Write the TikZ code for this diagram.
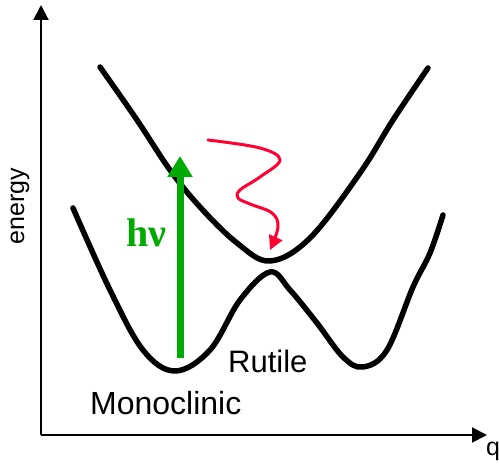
\documentclass[tikz,border=0pt]{standalone}
\usepackage{fontspec}
\setmainfont{Liberation Sans}
\newfontfamily\hnufont{Liberation Serif}
\usetikzlibrary{arrows.meta}
\definecolor{hvgreen}{RGB}{0,170,0}
\definecolor{relaxred}{RGB}{255,0,51}
\tikzset{
  axisline/.style={line width=2pt, -{Triangle[width=15pt,length=15pt]}},
  curveline/.style={line width=5.5pt, line cap=round, line join=round},
  lbl/.style={inner sep=0pt, font=\fontsize{31}{33}\selectfont},
  smalllbl/.style={inner sep=0pt, font=\fontsize{25}{27}\selectfont},
}
\begin{document}
\begin{tikzpicture}[x=1pt,y=-1pt]
\useasboundingbox (0,0) rectangle (499,465);
% axes
\coordinate (O) at (41,435);
\coordinate (ytop) at (41,5);
\coordinate (xend) at (487,435);
\draw[axisline] (O) -- (ytop);
\draw[axisline] (O) -- (xend);
\node[smalllbl, rotate=90] (energy) at (20,206) {energy};
\node[smalllbl, anchor=base west] (q) at (486,456) {q};
% upper potential curve
\draw[curveline] plot[smooth, tension=0.6] coordinates {
 (100,67) (137,120) (170,170) (200,207) (237,243) (270,261)
 (310,238) (360,173) (393,120) (428,68)};
% lower potential curve
\draw[curveline] plot[smooth, tension=0.6] coordinates {
 (73,208) (110,290) (143,350) (175,371) (210,350) (240,300) (270,272)
 (290,290) (317,323) (343,357) (363,367) (387,350) (413,287) (430,253) (443,215)};
% excitation arrow
\coordinate (gbot) at (180,358);
\coordinate (gtop) at (180,156);
\draw[hvgreen, line width=7pt, -{Triangle[width=24pt,length=21pt]}] (gbot) -- (gtop);
\node[inner sep=0pt, anchor=base west, text=hvgreen, font=\hnufont\bfseries\fontsize{40}{42}\selectfont] (hv) at (126,247) {hν};
% relaxation squiggle
\coordinate (rstart) at (208,140);
\coordinate (rend) at (270,250);
\draw[relaxred, line width=3pt, line cap=round, line join=round, -{Triangle[width=14pt,length=14pt]}]
 plot[smooth, tension=0.6] coordinates {(rstart) (260,148) (280,160) (260,177) (240,190) (238,198) (250,204) (272,213) (278,227) (rend)};
% labels
\node[lbl, anchor=base west] (rutile) at (228,373) {Rutile};
\node[lbl, anchor=base west, font=\fontsize{32}{34}\selectfont] (mono) at (90,415) {Monoclinic};
\end{tikzpicture}
\end{document}
